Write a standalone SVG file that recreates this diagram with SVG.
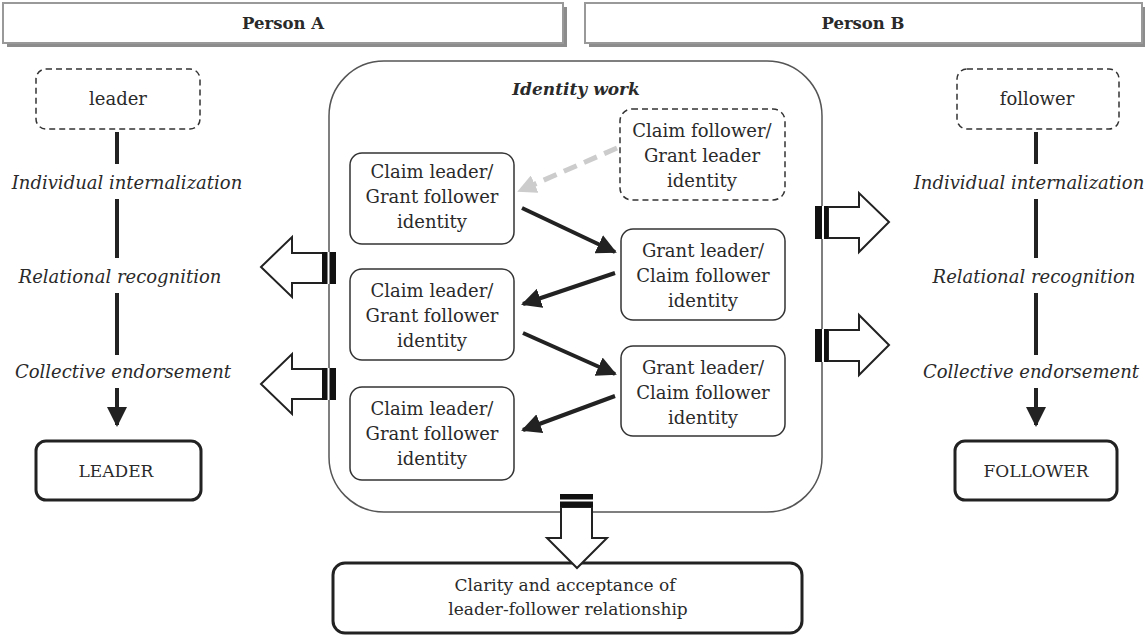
<svg xmlns="http://www.w3.org/2000/svg" width="1145" height="636" viewBox="0 0 1145 636">
<defs>
<style>
text{font-family:"DejaVu Serif","Liberation Serif",serif;fill:#2a2a2a;text-anchor:middle;}
.t{font-size:18px;}
.t2{font-size:17px;}
.it{font-size:18px;font-style:italic;}
.hd{font-size:16.5px;font-weight:bold;}
.box{fill:#fff;stroke:#333;stroke-width:1.5;}
.dbox{fill:#fff;stroke:#333;stroke-width:1.5;stroke-dasharray:6 4;}
.tbox{fill:#fff;stroke:#222;stroke-width:3;}
.line{stroke:#222;stroke-width:4;fill:none;}
.arr{stroke:#222;stroke-width:4;fill:none;marker-end:url(#ah);}
.garr{stroke:#ccc;stroke-width:5;fill:none;stroke-dasharray:14 8;marker-end:url(#gah);}
.block{fill:#fff;stroke:#222;stroke-width:2;}
</style>
<marker id="ah" viewBox="0 0 10 10" refX="9" refY="5" markerWidth="5" markerHeight="5" orient="auto" markerUnits="strokeWidth"><path d="M0,0 L10,5 L0,10 z" fill="#222"/></marker>
<marker id="gah" viewBox="0 0 10 10" refX="9" refY="5" markerWidth="3.8" markerHeight="3.8" orient="auto" markerUnits="strokeWidth"><path d="M0,0 L10,5 L0,10 z" fill="#ccc"/></marker>
</defs>

<g id="header-a">
<rect x="7" y="7" width="560" height="40" fill="#8c8c8c"/>
<rect x="3" y="3" width="560" height="40" fill="#fff" stroke="#999" stroke-width="2"/>
<text class="hd" x="283" y="29">Person A</text>
</g>
<g id="header-b">
<rect x="589" y="7" width="557" height="40" fill="#8c8c8c"/>
<rect x="585" y="3" width="557" height="40" fill="#fff" stroke="#999" stroke-width="2"/>
<text class="hd" x="863" y="29">Person B</text>
</g>

<g id="identity-work">
<rect x="329" y="61" width="493" height="451" rx="55" fill="#fff" stroke="#555" stroke-width="1.5"/>
<text x="576" y="95" style="font-size:17px;font-style:italic;font-weight:bold;">Identity work</text>
</g>

<g id="leader-start">
<rect class="dbox" x="36" y="69" width="164" height="60" rx="10"/>
<text class="t" x="118" y="105">leader</text>
</g>
<g id="follower-start">
<rect class="dbox" x="957" y="69" width="162" height="60" rx="10"/>
<text class="t" x="1037" y="105">follower</text>
</g>

<g id="left-labels">
<text class="it" x="127" y="189">Individual internalization</text>
<text class="it" x="120" y="283">Relational recognition</text>
<text class="it" x="123" y="378">Collective endorsement</text>
</g>
<g id="right-labels">
<text class="it" x="1029" y="189">Individual internalization</text>
<text class="it" x="1034" y="283">Relational recognition</text>
<text class="it" x="1031" y="378">Collective endorsement</text>
</g>

<g id="leader-end">
<rect class="tbox" x="36" y="441" width="165" height="59" rx="10"/>
<text class="t2" x="116" y="477">LEADER</text>
</g>
<g id="follower-end">
<rect class="tbox" x="955" y="441" width="162" height="59" rx="10"/>
<text class="t2" x="1036" y="477">FOLLOWER</text>
</g>

<g id="box1">
<rect class="box" x="350" y="153" width="164" height="91" rx="12"/>
<text class="t" x="432" y="178">Claim leader/</text>
<text class="t" x="432" y="203">Grant follower</text>
<text class="t" x="432" y="228">identity</text>
</g>
<g id="box-dashed">
<rect class="dbox" x="620" y="109" width="165" height="91" rx="12"/>
<text class="t" x="702" y="137">Claim follower/</text>
<text class="t" x="702" y="162">Grant leader</text>
<text class="t" x="702" y="187">identity</text>
</g>
<g id="box2">
<rect class="box" x="621" y="229" width="164" height="91" rx="12"/>
<text class="t" x="703" y="257">Grant leader/</text>
<text class="t" x="703" y="282">Claim follower</text>
<text class="t" x="703" y="307">identity</text>
</g>
<g id="box3">
<rect class="box" x="350" y="269" width="164" height="91" rx="12"/>
<text class="t" x="432" y="297">Claim leader/</text>
<text class="t" x="432" y="322">Grant follower</text>
<text class="t" x="432" y="347">identity</text>
</g>
<g id="box4">
<rect class="box" x="621" y="346" width="164" height="90" rx="12"/>
<text class="t" x="703" y="374">Grant leader/</text>
<text class="t" x="703" y="399">Claim follower</text>
<text class="t" x="703" y="424">identity</text>
</g>
<g id="box5">
<rect class="box" x="350" y="387" width="164" height="93" rx="12"/>
<text class="t" x="432" y="415">Claim leader/</text>
<text class="t" x="432" y="440">Grant follower</text>
<text class="t" x="432" y="465">identity</text>
</g>

<g id="outcome">
<rect class="tbox" x="333" y="563" width="469" height="70" rx="12"/>
<text class="t2" x="565" y="591">Clarity and acceptance of</text>
<text class="t2" x="568" y="615">leader-follower relationship</text>
</g>

<g id="connectors">
<line class="line" x1="117" y1="132" x2="117" y2="164"/>
<line class="line" x1="117" y1="199" x2="117" y2="258"/>
<line class="line" x1="117" y1="293" x2="117" y2="355"/>
<line class="arr" x1="117" y1="388" x2="117" y2="425"/>
<line class="line" x1="1036" y1="132" x2="1036" y2="164"/>
<line class="line" x1="1036" y1="199" x2="1036" y2="258"/>
<line class="line" x1="1036" y1="293" x2="1036" y2="355"/>
<line class="arr" x1="1036" y1="388" x2="1036" y2="425"/>

<line class="garr" x1="617" y1="148" x2="519" y2="191"/>
<line class="arr" x1="522" y1="208" x2="615" y2="252"/>
<line class="arr" x1="615" y1="273" x2="523" y2="304"/>
<line class="arr" x1="523" y1="333" x2="615" y2="374"/>
<line class="arr" x1="615" y1="396" x2="523" y2="430"/>

<path class="block" d="M323,253 L292,253 L292,237 L261,267 L292,297 L292,283 L323,283 z"/>
<rect x="322" y="252" width="14" height="32" fill="#111"/>
<rect x="327.5" y="252" width="2" height="32" fill="#fff"/>
<path class="block" d="M323,369 L292,369 L292,354 L261,384 L292,414 L292,399 L323,399 z"/>
<rect x="322" y="368" width="14" height="32" fill="#111"/>
<rect x="327.5" y="368" width="2" height="32" fill="#fff"/>

<path class="block" d="M828,207 L859,207 L859,193 L889,222 L859,252 L859,238 L828,238 z"/>
<rect x="815" y="206" width="13" height="33" fill="#111"/>
<rect x="822" y="206" width="2" height="33" fill="#fff"/>
<path class="block" d="M828,330 L859,330 L859,315 L889,345 L859,375 L859,361 L828,361 z"/>
<rect x="815" y="329" width="13" height="33" fill="#111"/>
<rect x="822" y="329" width="2" height="33" fill="#fff"/>

<path class="block" d="M561,507 L561,538 L547,538 L577,568 L607,538 L592,538 L592,507 z"/>
<rect x="560" y="494" width="33" height="13" fill="#111"/>
<rect x="560" y="499.5" width="33" height="2" fill="#fff"/>
</g>
</svg>
